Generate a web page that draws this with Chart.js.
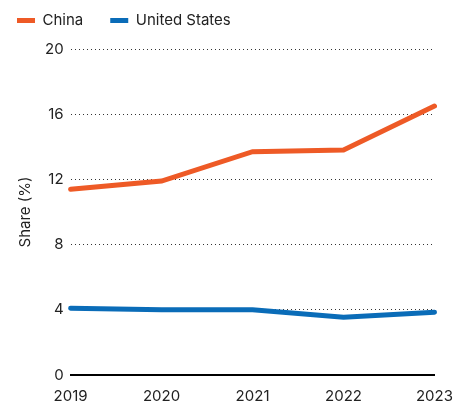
<!DOCTYPE html>
<html>
<head>
<meta charset="utf-8">
<script src="https://cdn.jsdelivr.net/npm/chart.js@4/dist/chart.umd.min.js"></script>
<style>
  html, body { margin: 0; padding: 0; background: #fff; }
  #wrap { width: 458px; height: 404px; }
</style>
</head>
<body>
<div id="wrap"><canvas id="c"></canvas></div>
<script>
const YEARS = ['2019', '2020', '2021', '2022', '2023'];
const CHINA = [11.4, 11.9, 13.7, 13.8, 16.5];
const US = [4.1, 4.0, 4.0, 3.55, 3.85];
const Y_TICKS = [0, 4, 8, 12, 16, 20];

const ORANGE = '#ee5a26';
const BLUE = '#0a6cb8';
const FONT = 'Inter, Roboto, sans-serif';

// wider gap between legend items without a taller legend box
const legendTweak = {
  id: 'legendTweak',
  beforeInit(chart) {
    const lg = chart.legend;
    const orig = lg.fit;
    lg.fit = function () { orig.call(this); this.height -= 3; };
  },
  afterLayout(chart) {
    chart.legend.top -= 14;
    chart.legend.left -= 22;
  }
};

new Chart(document.getElementById('c'), {
  type: 'line',
  data: {
    labels: YEARS,
    datasets: [
      { label: 'China', data: CHINA, borderColor: ORANGE, backgroundColor: ORANGE,
        borderWidth: 5, pointRadius: 0, tension: 0, borderCapStyle: 'round' },
      { label: 'United States', data: US, borderColor: BLUE, backgroundColor: BLUE,
        borderWidth: 5, pointRadius: 0, tension: 0, borderCapStyle: 'round' }
    ]
  },
  plugins: [legendTweak],
  options: {
    responsive: true,
    maintainAspectRatio: false,
    animation: false,
    layout: { padding: { left: 12, right: 18, top: 0, bottom: -6 } },
    plugins: {
      tooltip: { enabled: false },
      legend: {
        align: 'start',
        labels: {
          usePointStyle: true, pointStyle: 'line', pointStyleWidth: 18, padding: 27,
          font: { family: FONT, size: 15 }, color: '#222'
        }
      }
    },
    scales: {
      x: {
        offset: false,
        grid: { display: false, drawTicks: true, tickLength: 7, tickColor: '#000' },
        border: { display: true, color: '#000', width: 2 },
        ticks: { font: { family: FONT, size: 15 }, color: '#222', padding: 5, maxRotation: 0 }
      },
      y: {
        min: 0, max: 20,
        afterBuildTicks: axis => { axis.ticks = Y_TICKS.map(v => ({ value: v })); },
        grid: { color: '#333', lineWidth: 1, drawTicks: false },
        border: { display: false, dash: [1, 3] },
        ticks: { font: { family: FONT, size: 15 }, color: '#222', padding: 7 },
        title: { display: true, text: 'Share (%)', font: { family: FONT, size: 15 }, color: '#222', padding: 4 }
      }
    }
  }
});
</script>
</body>
</html>
